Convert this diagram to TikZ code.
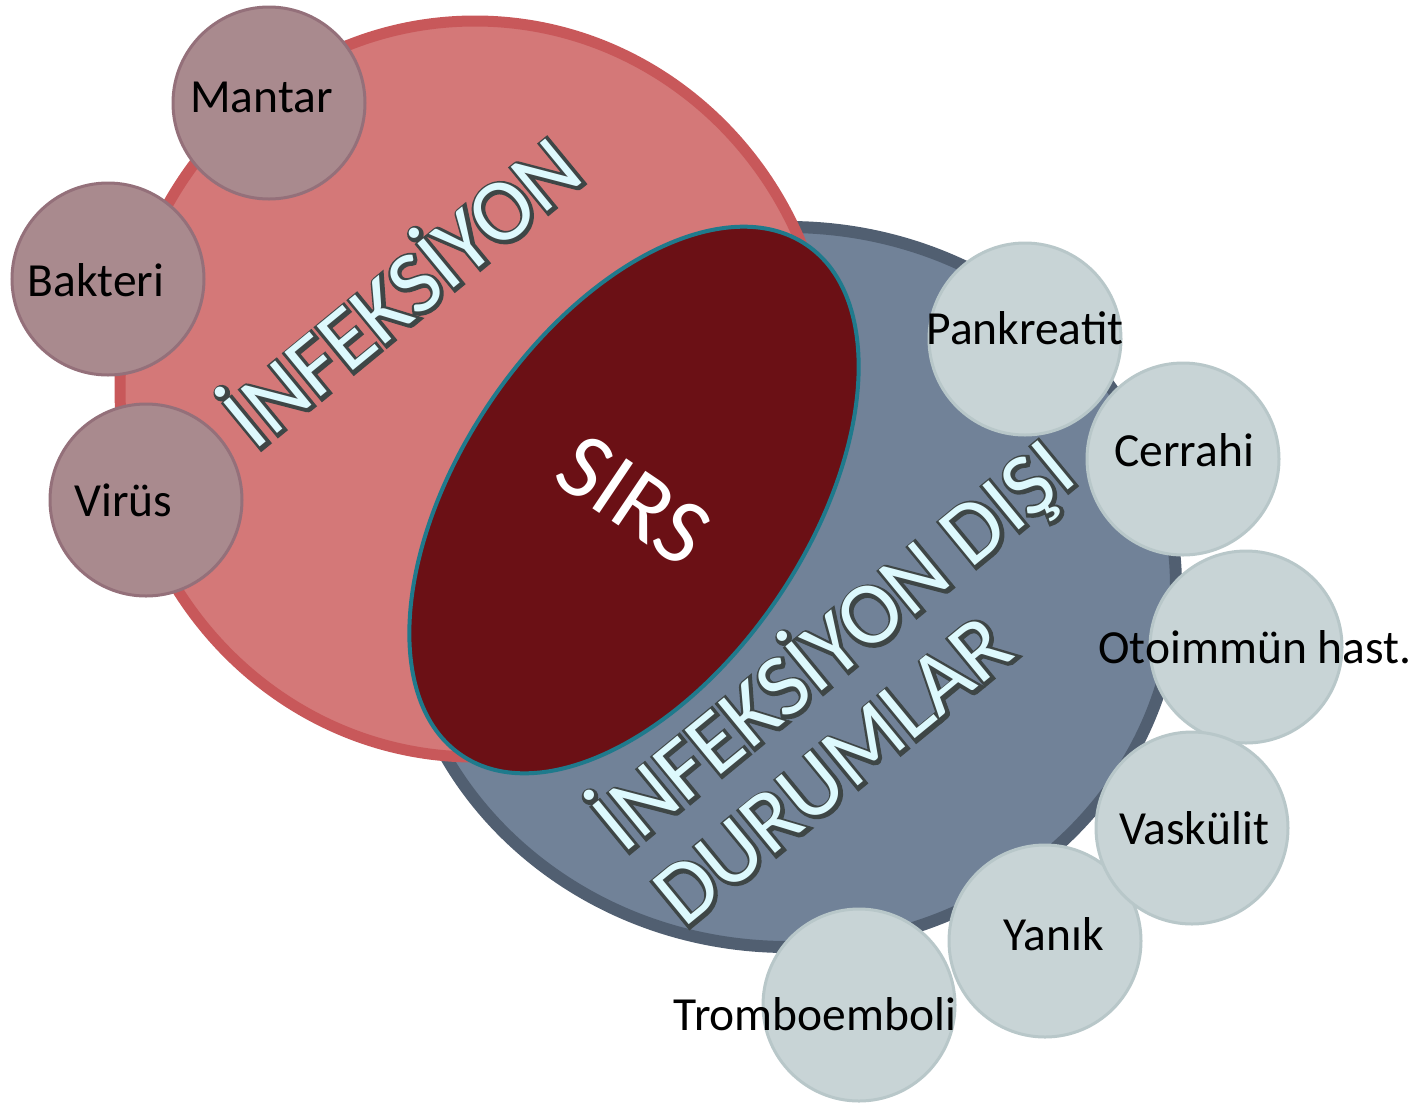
\documentclass[tikz,border=0pt]{standalone}
\usepackage{fontspec}
\setmainfont{Carlito}
\newfontfamily\rimfont[FakeBold=7]{Carlito}
\usetikzlibrary{shapes.geometric}
\definecolor{infred}{HTML}{D47878}
\definecolor{infredline}{HTML}{C8585A}
\definecolor{disblue}{HTML}{718298}
\definecolor{disblueline}{HTML}{515F71}
\definecolor{sirsred}{HTML}{6B1015}
\definecolor{sirsline}{HTML}{1F7A8C}
\definecolor{mauve}{HTML}{A98A8E}
\definecolor{mauveline}{HTML}{94707A}
\definecolor{pale}{HTML}{C8D4D6}
\definecolor{paleline}{HTML}{B8C7C9}
\definecolor{ice}{HTML}{DDF9FD}
\definecolor{rim}{HTML}{3E4646}
\begin{document}
\begin{tikzpicture}[x=1pt,y=-1pt,
  bubble/.style={circle,minimum size=192pt,inner sep=0pt,line width=3pt},
  germ/.style={bubble,fill=mauve,draw=mauveline},
  cause/.style={bubble,fill=pale,draw=paleline},
  lbl/.style={anchor=base,inner sep=0pt,font=\fontsize{47.5}{57}\selectfont},
  big/.style={inner sep=0pt,text=ice,rotate=39.4,font=\fontsize{89}{100}\selectfont},
  bigrim/.style={inner sep=0pt,text=rim,rotate=39.4,font=\rimfont\fontsize{89}{100}\selectfont}]
\useasboundingbox (0,0) rectangle (1421,1104);

\node[ellipse,minimum width=776pt,minimum height=720pt,fill=disblue,draw=disblueline,line width=12pt] (dis) at (788,587) {};
\node[ellipse,minimum width=710pt,minimum height=736pt,fill=infred,draw=infredline,line width=11pt] (inf) at (475,389) {};
\node[ellipse,minimum width=348pt,minimum height=616pt,inner sep=0pt,rotate=-34,fill=sirsred,draw=sirsline,line width=4pt,text=white,font=\fontsize{94}{110}\selectfont] (sirs) at (634,500) {SIRS};

\node[bigrim,anchor=base] (inf-rim) at (422,316) {İNFEKSİYON};
\node[big,anchor=base] (inf-txt) at (421,315) {İNFEKSİYON};
\node[bigrim,anchor=base west] (dis-rim1) at (624,856) {İNFEKSİYON DIŞI};
\node[big,anchor=base west] (dis-txt1) at (623,855) {İNFEKSİYON DIŞI};
\node[bigrim,anchor=base west] (dis-rim2) at (685,930) {DURUMLAR};
\node[big,anchor=base west] (dis-txt2) at (684,929) {DURUMLAR};

\foreach \n/\c/\t/\b in {mantar/{269,103}/Mantar/{261.5,112}, bakteri/{108,279}/Bakteri/{96,296}, virus/{146,500}/Virüs/{123.5,516}}
  {\node[germ] (\n) at (\c) {}; \node[lbl] (\n-t) at (\b) {\t};}
\foreach \n/\c/\t/\b in {pankreatit/{1025,339}/Pankreatit/{1025,344}, cerrahi/{1183,459}/Cerrahi/{1184,466}, otoimmun/{1246,647}/Otoimmün hast./{1255,663}, yanik/{1045,941}/Yanık/{1054,950}, vaskulit/{1192,828}/Vaskülit/{1194,844}, trombo/{859,1005}/Tromboemboli/{815,1030}}
  {\node[cause] (\n) at (\c) {}; \node[lbl] (\n-t) at (\b) {\t};}
\end{tikzpicture}
\end{document}
